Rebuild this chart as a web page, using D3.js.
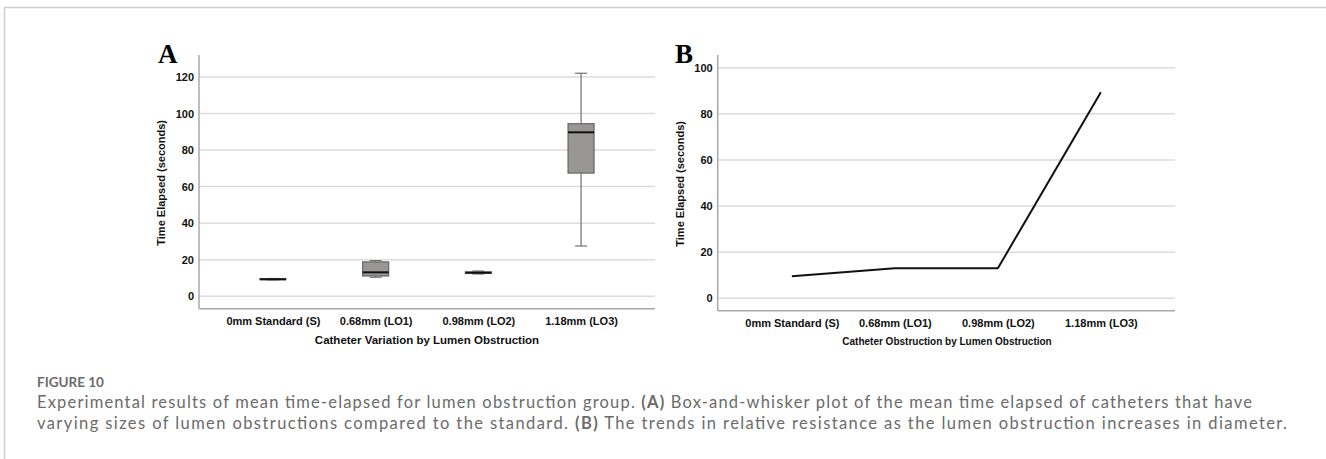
<!DOCTYPE html>
<html>
<head>
<meta charset="utf-8">
<script src="https://cdn.jsdelivr.net/npm/d3@7"></script>
<style>
  body { margin: 0; background: #fff; }
  svg { display: block; }
</style>
</head>
<body>
<svg id="fig" width="1326" height="459"></svg>
<script>
// categories shared by both panels
const categories = ["0mm Standard (S)", "0.68mm (LO1)", "0.98mm (LO2)", "1.18mm (LO3)"];

// panel A: box-and-whisker stats (seconds)
const boxMin    = [9.0, 10.4, 12.2, 27.5];
const boxQ1     = [9.1, 11.1, 12.6, 67.4];
const boxMedian = [9.3, 13.1, 12.9, 89.7];
const boxQ3     = [9.6, 18.8, 13.3, 94.4];
const boxMax    = [9.7, 19.5, 13.8, 122];
const ticksA = [0, 20, 40, 60, 80, 100, 120];

// panel B: mean time elapsed
const meanValues = [9.5, 13.0, 13.0, 89.3];
const ticksB = [0, 20, 40, 60, 80, 100];

const svg = d3.select("#fig");
const boldFont = "'Liberation Sans', Arial, sans-serif";

// outer frame (top and left rules)
svg.append("line").attr("x1", 4).attr("x2", 1326).attr("y1", 7.5).attr("y2", 7.5)
  .attr("stroke", "#cfcfcf").attr("stroke-width", 1.5);
svg.append("line").attr("x1", 4.5).attr("x2", 4.5).attr("y1", 7).attr("y2", 459)
  .attr("stroke", "#cfcfcf").attr("stroke-width", 1.5);

/**
 * Draws the common frame of one panel: gridlines, axes, labels.
 */
function drawPanel(opt) {
  const g = svg.append("g");
  const x = d3.scalePoint().domain(categories).range([opt.left, opt.right]).padding(0.72);
  const y = d3.scaleLinear().domain(opt.yDomain).range([opt.bottom, opt.top]);

  // gridlines
  g.append("g").selectAll("line").data(opt.ticks).join("line")
    .attr("x1", opt.left).attr("x2", opt.right)
    .attr("y1", d => y(d)).attr("y2", d => y(d))
    .attr("stroke", "#dcdcdc").attr("stroke-width", 1.5);

  // y axis
  const yAxis = g.append("g")
    .attr("transform", `translate(${opt.left},0)`)
    .call(d3.axisLeft(y).tickValues(opt.ticks).tickSize(0).tickPadding(5));
  yAxis.select(".domain").remove();
  yAxis.selectAll("text").attr("font-family", boldFont).attr("font-weight", "bold")
    .attr("font-size", 11).attr("fill", "#111");

  // axis lines
  g.append("line").attr("x1", opt.left).attr("x2", opt.left)
    .attr("y1", opt.top).attr("y2", opt.bottom)
    .attr("stroke", "#a8a8a8").attr("stroke-width", 1.5);
  g.append("line").attr("x1", opt.left).attr("x2", opt.right)
    .attr("y1", opt.bottom).attr("y2", opt.bottom)
    .attr("stroke", "#a8a8a8").attr("stroke-width", 1.5);

  // x axis tick labels
  const xAxis = g.append("g")
    .attr("transform", `translate(0,${opt.bottom})`)
    .call(d3.axisBottom(x).tickSize(0).tickPadding(9));
  xAxis.select(".domain").remove();
  xAxis.selectAll("text").attr("font-family", boldFont).attr("font-weight", "bold")
    .attr("font-size", 11).attr("fill", "#111");

  // axis titles
  g.append("text")
    .attr("transform", `translate(${opt.yTitleX},${(opt.top + opt.bottom) / 2 + 1}) rotate(-90)`)
    .attr("text-anchor", "middle").attr("dy", "0.35em")
    .attr("font-family", boldFont).attr("font-weight", "bold").attr("font-size", 11)
    .attr("fill", "#111").text("Time Elapsed (seconds)");
  g.append("text")
    .attr("x", opt.xTitleX).attr("y", opt.xTitleY)
    .attr("text-anchor", "middle")
    .attr("font-family", boldFont).attr("font-weight", "bold").attr("font-size", opt.xTitleSize)
    .attr("fill", "#111").text(opt.xTitle);

  // panel letter
  g.append("text")
    .attr("x", opt.letterX).attr("y", 63)
    .attr("font-family", "'Liberation Serif', 'Times New Roman', serif")
    .attr("font-weight", "bold").attr("font-size", 27).attr("fill", "#000")
    .text(opt.letter);

  return { g, x, y };
}

// ---- Panel A: box plot
const A = drawPanel({
  left: 199, right: 655, top: 55, bottom: 308.7,
  yDomain: [-6.8, 132], ticks: ticksA,
  yTitleX: 161, xTitle: "Catheter Variation by Lumen Obstruction",
  xTitleX: 427, xTitleY: 344, xTitleSize: 11.5,
  letter: "A", letterX: 158
});

const boxW = 26, capW = 12;
const boxes = categories.map((c, i) => ({
  c, min: boxMin[i], q1: boxQ1[i], med: boxMedian[i], q3: boxQ3[i], max: boxMax[i]
}));
const bg = A.g.append("g").selectAll("g").data(boxes).join("g");

// whiskers
bg.append("line")
  .attr("x1", d => A.x(d.c)).attr("x2", d => A.x(d.c))
  .attr("y1", d => A.y(d.max)).attr("y2", d => A.y(d.min))
  .attr("stroke", "#7a7a7a").attr("stroke-width", 1.3);
bg.selectAll(".cap").data(d => [{ c: d.c, v: d.min }, { c: d.c, v: d.max }]).join("line")
  .attr("class", "cap")
  .attr("x1", d => A.x(d.c) - capW / 2).attr("x2", d => A.x(d.c) + capW / 2)
  .attr("y1", d => A.y(d.v)).attr("y2", d => A.y(d.v))
  .attr("stroke", "#7a7a7a").attr("stroke-width", 1.3);

// boxes
bg.append("rect")
  .attr("x", d => A.x(d.c) - boxW / 2).attr("width", boxW)
  .attr("y", d => A.y(d.q3)).attr("height", d => Math.max(0.5, A.y(d.q1) - A.y(d.q3)))
  .attr("fill", "#9a9696").attr("stroke", "#666").attr("stroke-width", 1.2);

// medians
bg.append("line")
  .attr("x1", d => A.x(d.c) - boxW / 2).attr("x2", d => A.x(d.c) + boxW / 2)
  .attr("y1", d => A.y(d.med)).attr("y2", d => A.y(d.med))
  .attr("stroke", "#111").attr("stroke-width", 2);

// ---- Panel B: line chart
const B = drawPanel({
  left: 717.7, right: 1175, top: 55, bottom: 310.7,
  yDomain: [-5.4, 105.5], ticks: ticksB,
  yTitleX: 680, xTitle: "Catheter Obstruction by Lumen Obstruction",
  xTitleX: 947, xTitleY: 345, xTitleSize: 10,
  letter: "B", letterX: 675
});

const line = d3.line().x((d, i) => B.x(categories[i])).y(d => B.y(d));
B.g.append("path").datum(meanValues)
  .attr("d", line).attr("fill", "none")
  .attr("stroke", "#111").attr("stroke-width", 2).attr("stroke-linejoin", "round");

// ---- caption
const capFont = "Lato, 'Open Sans', sans-serif";
svg.append("text").attr("x", 37).attr("y", 387)
  .attr("font-family", capFont).attr("font-weight", "bold").attr("font-size", 13.5)
  .attr("fill", "#6b6b6b").text("FIGURE 10");

const line1 = svg.append("text").attr("x", 37).attr("y", 408)
  .attr("font-family", capFont).attr("font-size", 16.5).attr("fill", "#6b6b6b")
  .attr("textLength", 1215).attr("lengthAdjust", "spacing");
line1.append("tspan").text("Experimental results of mean time-elapsed for lumen obstruction group. ");
line1.append("tspan").attr("font-weight", "bold").text("(A)");
line1.append("tspan").text(" Box-and-whisker plot of the mean time elapsed of catheters that have");

const line2 = svg.append("text").attr("x", 37).attr("y", 429)
  .attr("font-family", capFont).attr("font-size", 16.5).attr("fill", "#6b6b6b")
  .attr("textLength", 1250).attr("lengthAdjust", "spacing");
line2.append("tspan").text("varying sizes of lumen obstructions compared to the standard. ");
line2.append("tspan").attr("font-weight", "bold").text("(B)");
line2.append("tspan").text(" The trends in relative resistance as the lumen obstruction increases in diameter.");
</script>
</body>
</html>
